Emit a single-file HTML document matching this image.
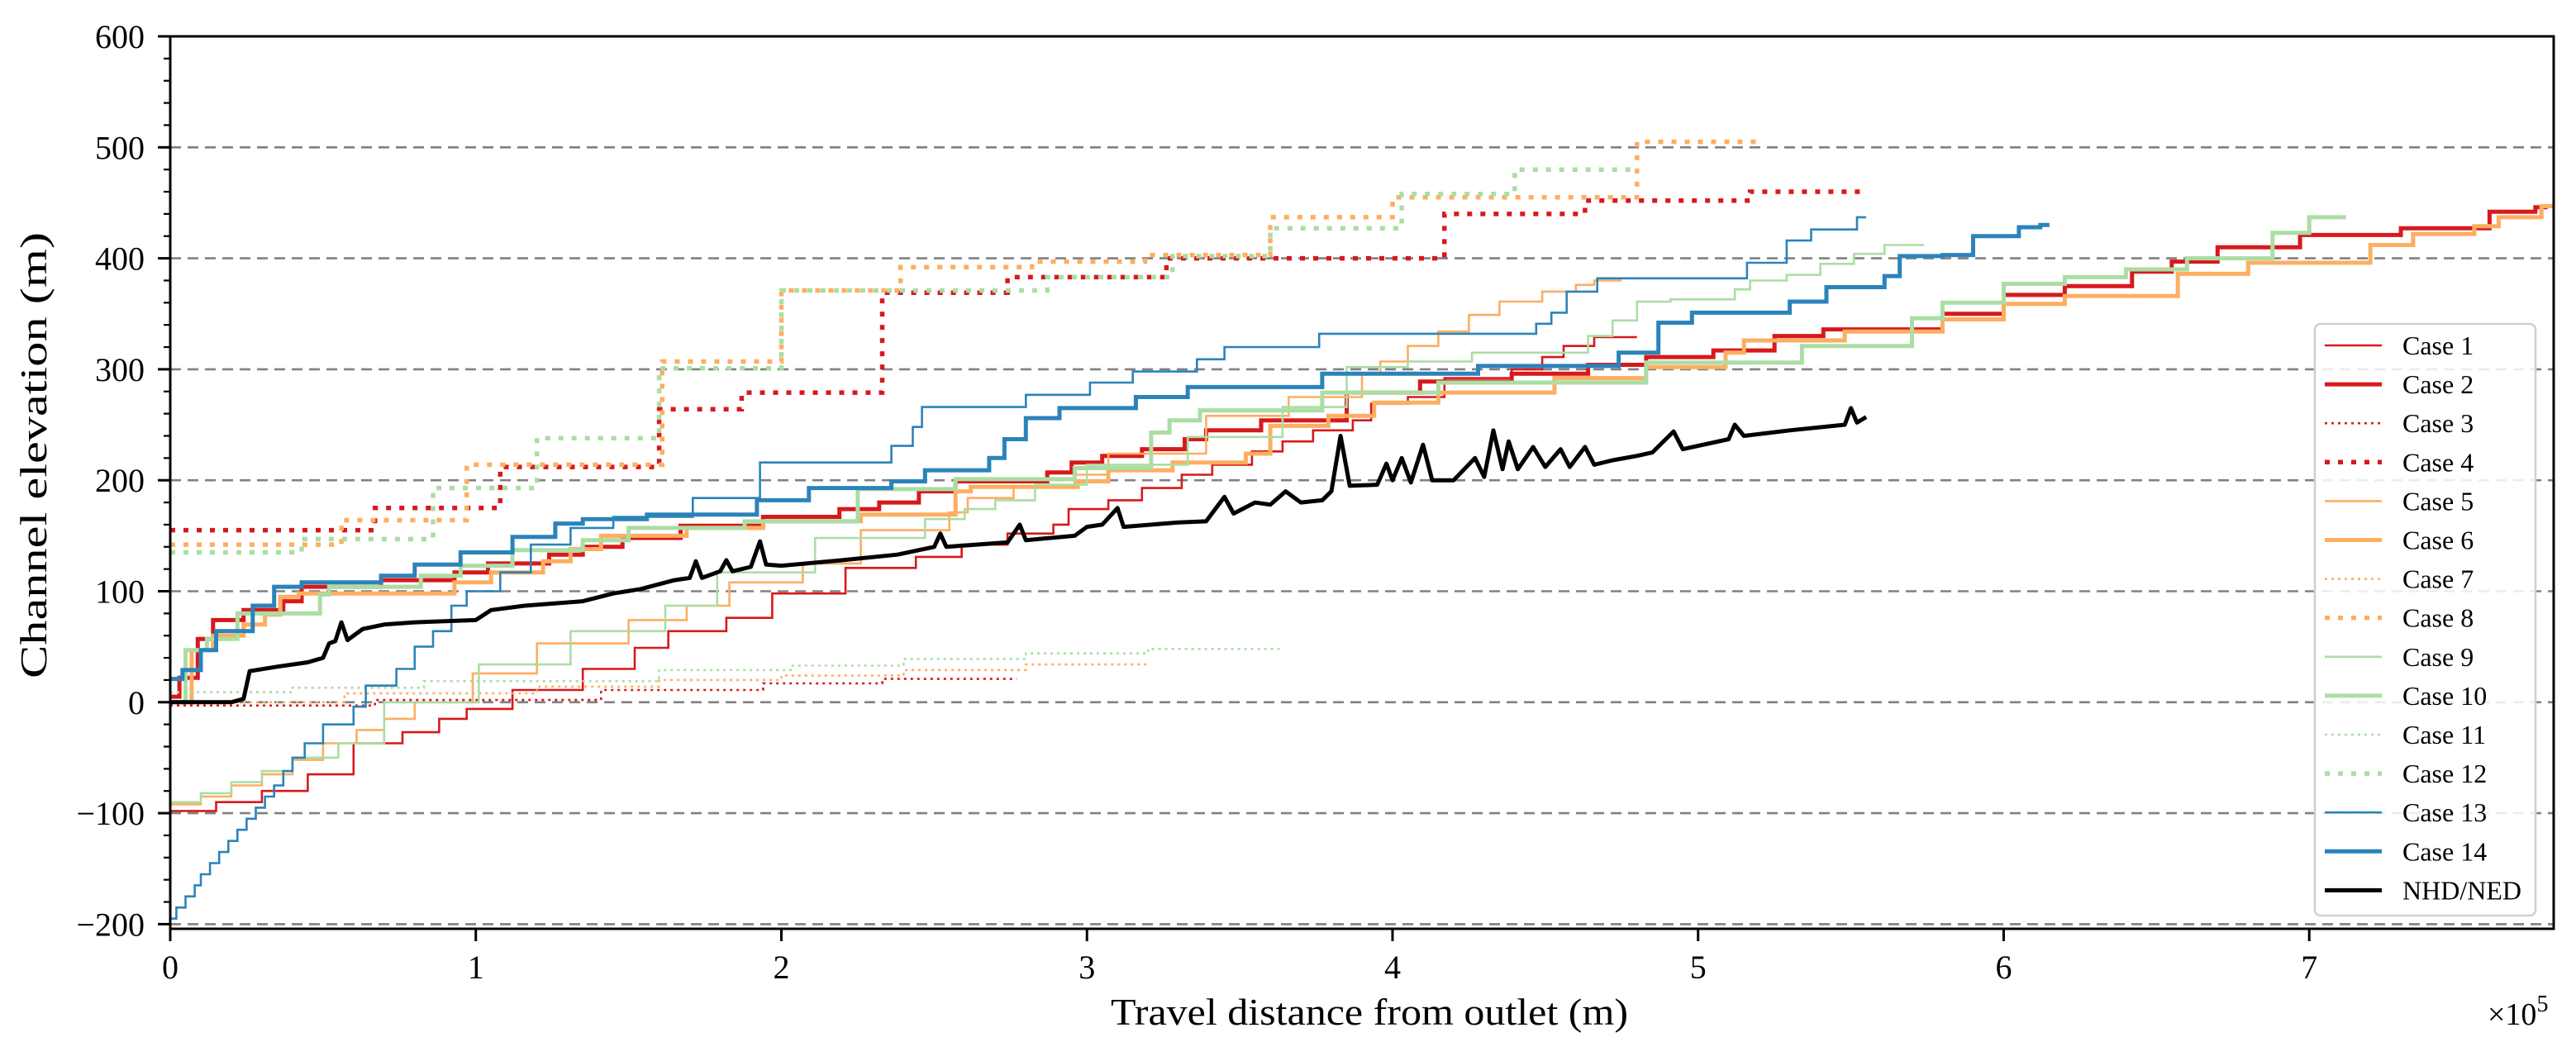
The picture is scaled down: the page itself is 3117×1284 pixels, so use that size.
<!DOCTYPE html>
<html><head><meta charset="utf-8"><style>
html,body{margin:0;padding:0;background:#fff;}
svg{display:block;font-family:"Liberation Serif",serif;}
</style></head><body>
<svg id="chart" width="3117" height="1284" viewBox="0 0 3117 1284" xmlns="http://www.w3.org/2000/svg">
<rect width="3117" height="1284" fill="#fff"/>
<g id="grid"></g>
<g id="series"></g>
<g id="axes"></g>
<g id="legend"></g>
</svg>
<script>
const xTicks=[0,1,2,3,4,5,6,7];
const yTicks=[-200,-100,0,100,200,300,400,500,600];
const seriesNames=["Case 1","Case 2","Case 3","Case 4","Case 5","Case 6","Case 7","Case 8","Case 9","Case 10","Case 11","Case 12","Case 13","Case 14","NHD/NED"];
// step series: [xEnd (x1e5 m), elevation (m)] — level held from previous xEnd to this xEnd
const case1=[[0.15,-98],[0.3,-90],[0.45,-80],[0.6,-65],[0.76,-37],[0.88,-27],[0.97,-15],[1.12,-6],[1.35,11],[1.52,30],[1.63,49],[1.82,64],[1.97,76],[2.21,98],[2.44,121],[2.59,131],[2.74,142],[2.89,152],[2.94,160],[3.07,174],[3.18,182],[3.31,193],[3.41,205],[3.54,214],[3.64,226],[3.74,235],[3.87,245],[3.93,254],[4.05,269],[4.17,275],[4.39,292],[4.49,300],[4.56,311],[4.66,321],[4.8,329]];
const case2=[[0.03,5],[0.09,22],[0.14,57],[0.24,74],[0.37,83],[0.43,91],[0.69,104],[0.93,110],[1.04,117],[1.24,125],[1.35,133],[1.48,140],[1.67,148],[1.94,159],[2.19,167],[2.32,174],[2.45,180],[2.57,190],[2.87,199],[2.95,207],[3.05,216],[3.18,222],[3.32,228],[3.39,237],[3.57,245],[3.85,254],[4.09,279],[4.39,289],[4.64,296],[4.83,304],[5.05,311],[5.25,317],[5.41,330],[5.8,336],[6.0,350],[6.2,367],[6.42,375],[6.55,388],[6.7,397],[6.97,410],[7.3,421],[7.59,427],[7.74,442],[7.78,446]];
const case3=[[0.67,-3],[1.41,2],[1.94,11],[2.33,17],[2.77,21]];
const case4=[[0.67,155],[1.08,175],[1.6,212],[1.87,264],[2.33,279],[2.74,369],[3.26,383],[4.17,400],[4.63,440],[5.17,452],[5.54,460]];
const case5=[[0.1,-92],[0.2,-85],[0.3,-75],[0.4,-65],[0.5,-52],[0.61,-37],[0.7,-25],[0.8,-15],[0.99,0],[1.2,26],[1.5,53],[1.69,74],[1.83,87],[2.07,108],[2.26,125],[2.55,155],[2.61,171],[2.76,184],[2.96,194],[3.07,205],[3.39,224],[3.66,258],[3.9,275],[3.96,296],[4.05,307],[4.15,321],[4.25,334],[4.35,349],[4.49,361],[4.6,370],[4.66,376],[4.75,380]];
const case6=[[0.07,0],[0.14,47],[0.24,60],[0.31,70],[0.36,79],[0.42,95],[0.93,98],[1.05,108],[1.22,117],[1.31,127],[1.41,138],[1.69,150],[1.94,157],[2.26,163],[2.57,169],[2.62,190],[2.97,194],[3.07,199],[3.28,209],[3.52,216],[3.6,224],[3.79,249],[3.94,258],[4.15,270],[4.53,279],[4.83,292],[5.09,302],[5.15,315],[5.48,326],[5.8,334],[6.0,345],[6.2,359],[6.57,366],[6.8,386],[7.2,396],[7.34,412],[7.54,422],[7.62,429],[7.76,437],[7.8,447]];
const case7=[[0.57,0],[1.2,8],[1.6,14],[2.0,20],[2.4,24],[2.8,29],[3.2,34]];
const case8=[[0.56,142],[0.97,164],[1.61,214],[2.0,307],[2.39,371],[2.82,392],[3.19,397],[3.6,403],[4.0,437],[4.8,455],[5.19,505]];
const case9=[[0.1,-90],[0.2,-82],[0.3,-72],[0.4,-62],[0.55,-50],[0.7,-37],[1.01,0],[1.31,34],[1.62,64],[1.79,87],[2.11,117],[2.47,148],[2.6,165],[2.7,174],[2.83,182],[3.0,196],[3.33,214],[3.64,239],[3.85,266],[4.05,302],[4.26,307],[4.64,315],[4.72,330],[4.8,344],[4.91,361],[5.12,363],[5.17,372],[5.29,380],[5.4,385],[5.51,395],[5.61,404],[5.74,412]];
const case10=[[0.05,0],[0.12,47],[0.22,57],[0.49,80],[0.52,97],[0.82,104],[0.95,114],[1.12,123],[1.35,137],[1.5,146],[1.88,157],[2.25,163],[2.57,192],[2.96,201],[3.21,211],[3.27,243],[3.37,254],[3.77,263],[4.15,279],[4.83,288],[5.34,306],[5.7,321],[5.8,346],[6.0,360],[6.2,377],[6.4,383],[6.6,390],[6.88,400],[7.0,423],[7.12,437]];
const case11=[[0.4,9],[0.83,13],[1.6,19],[2.03,29],[2.4,33],[2.8,39],[3.2,44],[3.63,48]];
const case12=[[0.43,135],[0.86,147],[1.2,193],[1.6,238],[2.0,301],[2.87,371],[3.28,383],[3.6,402],[4.03,427],[4.4,458],[4.8,480]];
const case13=[[0.02,-195],[0.05,-185],[0.08,-175],[0.1,-165],[0.13,-155],[0.16,-145],[0.19,-135],[0.22,-125],[0.25,-115],[0.28,-105],[0.31,-95],[0.34,-85],[0.37,-75],[0.4,-62],[0.44,-50],[0.5,-37],[0.6,-20],[0.64,-4],[0.74,15],[0.8,30],[0.86,50],[0.92,64],[0.97,87],[1.08,100],[1.18,117],[1.31,142],[1.45,157],[1.71,167],[1.93,184],[2.36,216],[2.43,231],[2.46,248],[2.8,266],[3.01,277],[3.15,288],[3.36,298],[3.45,309],[3.76,320],[4.47,332],[4.52,341],[4.57,351],[4.67,370],[5.16,382],[5.29,396],[5.37,416],[5.52,426],[5.55,437]];
const case14=[[0.04,21],[0.1,29],[0.15,47],[0.27,64],[0.34,87],[0.43,104],[0.69,108],[0.8,114],[0.95,124],[1.12,135],[1.26,149],[1.35,161],[1.56,165],[1.92,169],[2.09,182],[2.36,193],[2.47,199],[2.68,209],[2.73,220],[2.8,237],[2.91,256],[3.16,265],[3.33,275],[3.77,284],[4.28,296],[4.74,303],[4.87,315],[4.98,342],[5.3,351],[5.42,361],[5.61,374],[5.66,384],[5.8,402],[5.9,403],[6.05,420],[6.12,428],[6.15,430]];
// NHD/NED profile points [x, elevation]
const nhd=[[0,0],[0.2,0],[0.24,3],[0.26,28],[0.35,32],[0.45,36],[0.5,40],[0.52,53],[0.54,55],[0.56,72],[0.58,56],[0.63,66],[0.7,70],[0.8,72],[1.0,74],[1.05,83],[1.16,87],[1.35,91],[1.45,98],[1.54,102],[1.65,110],[1.7,112],[1.72,127],[1.74,112],[1.8,118],[1.82,128],[1.84,118],[1.9,122],[1.93,145],[1.95,124],[2.0,123],[2.2,128],[2.38,133],[2.5,140],[2.52,152],[2.54,140],[2.74,144],[2.78,160],[2.8,146],[2.96,150],[3.0,158],[3.05,160],[3.1,175],[3.12,158],[3.3,162],[3.39,163],[3.45,185],[3.48,170],[3.55,180],[3.6,178],[3.65,190],[3.7,180],[3.77,182],[3.8,190],[3.83,240],[3.86,195],[3.95,196],[3.98,215],[4.0,200],[4.03,220],[4.06,198],[4.1,232],[4.13,200],[4.2,200],[4.27,220],[4.3,203],[4.33,245],[4.36,210],[4.38,235],[4.41,210],[4.46,230],[4.5,212],[4.55,228],[4.58,212],[4.63,230],[4.66,214],[4.72,218],[4.8,222],[4.85,225],[4.92,244],[4.95,228],[5.1,237],[5.12,250],[5.15,240],[5.3,245],[5.48,250],[5.5,265],[5.52,252],[5.55,257]];

const NS="http://www.w3.org/2000/svg";
const L=206,R=3090,T=44,B=1124,XMAX=7.8;
const X=v=>L+v*(R-L)/XMAX;
const Y=v=>T+(600-v)*1.343;
function mk(tag,attrs,parent){const e=document.createElementNS(NS,tag);for(const k in attrs)e.setAttribute(k,attrs[k]);parent.appendChild(e);return e;}
const grid=document.getElementById('grid'),axes=document.getElementById('axes'),ser=document.getElementById('series'),leg=document.getElementById('legend');

yTicks.forEach(t=>{
  if(t>-300&&t<600){
    const g=mk('line',{x1:L,x2:R,y1:Y(t),y2:Y(t),stroke:'#808080','stroke-width':2.6,'stroke-dasharray':'13,8'},grid);
    
    
  }
});

const C={red:'#d7191c',orange:'#fdae61',green:'#abdda4',blue:'#2b83ba'};
const styles=[
 {c:C.red,w:2.6,d:''},{c:C.red,w:5,d:''},{c:C.red,w:2.6,d:'3,5'},{c:C.red,w:5.5,d:'6,10'},
 {c:C.orange,w:2.6,d:''},{c:C.orange,w:5,d:''},{c:C.orange,w:2.6,d:'3,5'},{c:C.orange,w:5.5,d:'6,10'},
 {c:C.green,w:2.6,d:''},{c:C.green,w:5,d:''},{c:C.green,w:2.6,d:'3,5'},{c:C.green,w:5.5,d:'6,10'},
 {c:C.blue,w:2.6,d:''},{c:C.blue,w:5,d:''},{c:'#000',w:5,d:''}];
const data=[case1,case2,case3,case4,case5,case6,case7,case8,case9,case10,case11,case12,case13,case14];

function stepPath(arr){
  let d='M'+X(0).toFixed(1)+' '+Y(arr[0][1]).toFixed(1);
  arr.forEach((p,i)=>{
    if(i>0)d+=' V'+Y(p[1]).toFixed(1);
    d+=' H'+X(p[0]).toFixed(1);
  });
  return d;
}
data.forEach((arr,i)=>{
  const s=styles[i];
  const p=mk('path',{d:stepPath(arr),fill:'none',stroke:s.c,'stroke-width':s.w,'stroke-dasharray':s.d,'stroke-linejoin':'miter'},ser);
  
  
});
const np=mk('path',{d:'M'+nhd.map(p=>X(p[0]).toFixed(1)+' '+Y(p[1]).toFixed(1)).join(' L'),fill:'none',stroke:'#000','stroke-width':5,'stroke-linejoin':'round'},ser);



// axes frame
const fr=mk('rect',{x:L,y:T,width:R-L,height:B-T,fill:'none',stroke:'#000','stroke-width':3},axes);


for(let v=-200;v<=600;v+=20){
  const major=v%100===0;
  const tk=mk('line',{x1:L-(major?15:8),x2:L,y1:Y(v),y2:Y(v),stroke:'#000','stroke-width':major?3:2.2},axes);
  
  
}
yTicks.forEach(t=>{
  const tx=mk('text',{x:175,y:Y(t)+14,'text-anchor':'end','font-size':40},axes);
  tx.textContent=(t<0?'\u2212'+(-t):t);
  
  
});
xTicks.forEach(t=>{
  const tk=mk('line',{x1:X(t),x2:X(t),y1:B,y2:B+15,stroke:'#000','stroke-width':3},axes);
  
  
  const tx=mk('text',{x:X(t),y:1184,'text-anchor':'middle','font-size':40},axes);
  tx.textContent=t;
  
  
});
const xt=mk('text',{x:1657,y:1240,'text-anchor':'middle','font-size':46,textLength:626,lengthAdjust:'spacingAndGlyphs'},axes);
xt.textContent='Travel distance from outlet (m)';


const yt=mk('text',{x:0,y:0,'text-anchor':'middle','font-size':46,transform:'translate(56,551) rotate(-90)',textLength:540,lengthAdjust:'spacingAndGlyphs'},axes);
yt.textContent='Channel elevation (m)';


const sc=mk('text',{x:3010,y:1240,'font-size':38},axes);
sc.innerHTML='\u00d710<tspan dy="-16" font-size="28">5</tspan>';



// legend
const lb=mk('rect',{x:2801,y:392,width:267,height:716,rx:7,fill:'#fff','fill-opacity':0.85,stroke:'#d0d0d0','stroke-width':2.6},leg);


seriesNames.forEach((n,i)=>{
  const y=418+i*47.1,s=styles[i];
  const g=mk('g',{},leg);
  
  
  mk('line',{x1:2813,x2:2882,y1:y,y2:y,stroke:s.c,'stroke-width':s.w,'stroke-dasharray':s.d},g);
  const t=mk('text',{x:2907,y:y+11,'font-size':32},g);
  t.textContent=n;
});
</script>
</body></html>
